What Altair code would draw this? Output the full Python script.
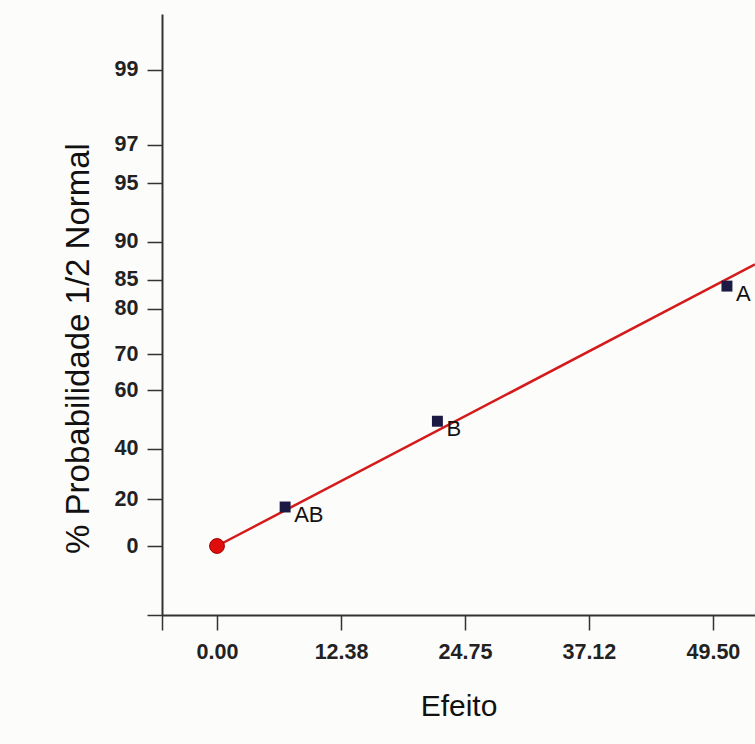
import altair as alt
import pandas as pd
from statistics import NormalDist

nd = NormalDist()

def half_normal(p):
    return nd.inv_cdf(0.5 + p / 200.0)

# ---- data ----
effect_names = ["AB", "B", "A"]
effect_values = [6.8, 22.0, 50.9]
effect_probs = [16.7, 50.0, 84.0]

origin_effect = [0.0]
origin_prob = [0.0]

line_effect = [0.0, 53.7]
line_prob = [0.0, 87.2]

y_tick_probs = [0, 20, 40, 60, 70, 80, 85, 90, 95, 97, 99]
x_tick_values = [0.00, 12.38, 24.75, 37.12, 49.50]

# ---- tables ----
pts = pd.DataFrame({"name": effect_names, "effect": effect_values,
                    "z": [half_normal(p) for p in effect_probs]})
org = pd.DataFrame({"effect": origin_effect, "z": [half_normal(p) for p in origin_prob]})
ln = pd.DataFrame({"effect": line_effect, "z": [half_normal(p) for p in line_prob]})

x_min, x_max = -5.49, 53.7
z_min, z_max = -0.373, 2.876

y_tick_z = [half_normal(p) for p in y_tick_probs]
expr = "''"
for z, p in reversed(list(zip(y_tick_z, y_tick_probs))):
    expr = f"abs(datum.value - {z:.6f}) < 0.001 ? '{p}' : ({expr})"

xscale = alt.Scale(domain=[x_min, x_max], nice=False, zero=False)
yscale = alt.Scale(domain=[z_min, z_max], nice=False, zero=False)

FONT = "Liberation Sans"

x_axis = alt.Axis(values=[x_min] + x_tick_values,
                  labelExpr="datum.value < -1 ? '' : format(datum.value, '.2f')",
                  title="Efeito", grid=False, domainColor="#333", domainWidth=2,
                  tickColor="#333", tickWidth=1.5, tickSize=15, labelPadding=11,
                  labelFont=FONT, labelFontSize=21.5, labelFontWeight="bold", labelColor="#222",
                  titleFont=FONT, titleFontSize=30, titleFontWeight="normal", titleColor="#111",
                  titlePadding=29, labelFlush=False, labelOverlap=False)
y_axis = alt.Axis(values=[z_min] + y_tick_z, labelExpr=expr,
                  title="% Probabilidade 1/2 Normal", grid=False, domainColor="#333", domainWidth=2,
                  tickColor="#333", tickWidth=1.5, tickSize=15, labelPadding=9,
                  labelFont=FONT, labelFontSize=21.5, labelFontWeight="bold", labelColor="#222",
                  titleFont=FONT, titleFontSize=33, titleFontWeight="normal", titleColor="#111",
                  titlePadding=19, titleY=334, labelFlush=False, labelOverlap=False)

base_x = alt.X("effect:Q", scale=xscale, axis=x_axis)
base_y = alt.Y("z:Q", scale=yscale, axis=y_axis)

line = alt.Chart(ln).mark_line(color="#d41a1a", strokeWidth=2.5).encode(x=base_x, y=base_y)
squares = alt.Chart(pts).mark_square(size=120, color="#1c1a45", opacity=1).encode(x="effect:Q", y="z:Q")
labels = alt.Chart(pts).mark_text(align="left", baseline="middle", dx=9, dy=8,
                                  font=FONT, fontSize=22, color="#111").encode(
    x="effect:Q", y="z:Q", text="name:N")
circle = alt.Chart(org).mark_circle(size=220, color="#e00d0d", opacity=1,
                                    stroke="#a00000", strokeWidth=1).encode(x="effect:Q", y="z:Q")

chart = alt.layer(line, squares, labels, circle).properties(
    width=593, height=601,
    autosize=alt.AutoSizeParams(type="none"),
    padding={"left": 162, "top": 14, "right": 0, "bottom": 129},
    background="#fcfcfa",
).configure_view(stroke=None)

chart.save("out.html", embed_options={"renderer": "svg", "actions": False})
